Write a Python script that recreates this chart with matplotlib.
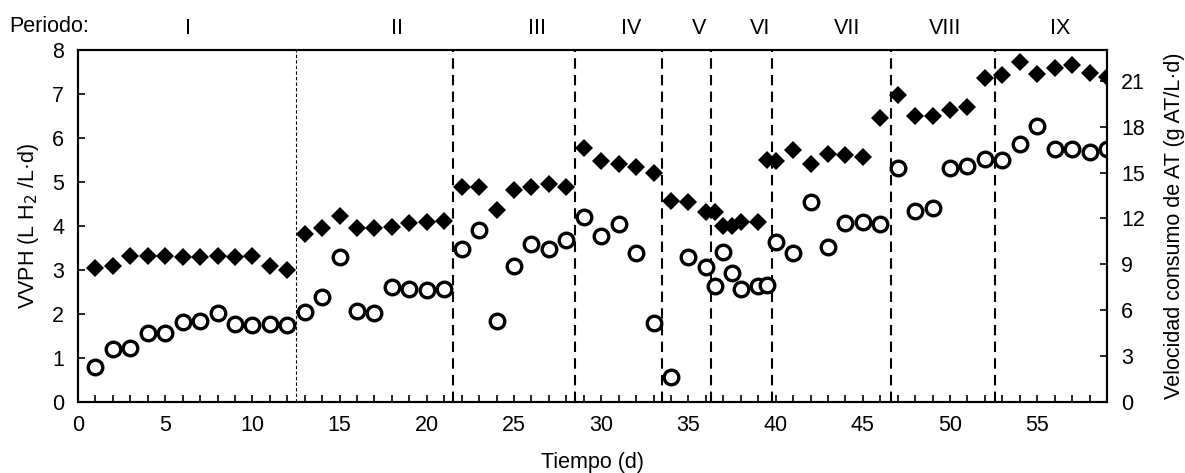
import numpy as np
import matplotlib
matplotlib.use('Agg')
import matplotlib.pyplot as plt

plt.rcParams['font.family'] = ['Liberation Sans', 'DejaVu Sans']

# Tiempo (d)
tiempo = [1, 2, 3, 4, 5, 6, 7, 8, 9, 10, 11, 12,
          13, 14, 15, 16, 17, 18, 19, 20, 21,
          22, 23, 24, 25, 26, 27, 28,
          29, 30, 31, 32, 33,
          34, 35, 36, 36.5, 37, 37.5, 38, 39, 39.5, 40,
          41, 42, 43, 44, 45, 46, 47, 48, 49, 50, 51, 52, 53, 54, 55, 56, 57, 58, 59]

# VVPH (L H2/L.d) - circulos
vvph = [0.80, 1.20, 1.22, 1.56, 1.58, 1.83, 1.85, 2.03, 1.77, 1.75, 1.77, 1.76,
        2.04, 2.39, 3.29, 2.08, 2.03, 2.61, 2.58, 2.55, 2.58,
        3.47, 3.91, 1.84, 3.10, 3.59, 3.49, 3.68,
        4.20, 3.77, 4.05, 3.38, 1.80,
        0.56, 3.30, 3.08, 2.64, 3.42, 2.94, 2.58, 2.64, 2.67, 3.63,
        3.38, 4.55, 3.52, 4.08, 4.10, 4.05, 5.31, 4.35, 4.40, 5.33, 5.37, 5.52, 5.50,
        5.86, 6.27, 5.75, 5.75, 5.69, 5.75]

# Velocidad consumo de AT (g AT/L.d) - rombos
consumo_at = [8.74, 8.91, 9.55, 9.55, 9.55, 9.49, 9.49, 9.55, 9.49, 9.55, 8.86, 8.65,
              11.01, 11.39, 12.16, 11.39, 11.39, 11.44, 11.67, 11.79, 11.85,
              14.03, 14.06, 12.54, 13.86, 14.03, 14.23, 14.06,
              16.59, 15.76, 15.58, 15.38, 14.95,
              13.14, 13.05, 12.45, 12.45, 11.50, 11.50, 11.79, 11.79, 15.81, 15.76,
              16.50, 15.53, 16.24, 16.13, 15.99, 18.54, 20.10, 18.69, 18.69, 19.12, 19.29,
              21.16, 21.36, 22.22, 21.42, 21.85, 22.05, 21.53, 21.25]

# Cambios de periodo y etiquetas
cambios = [12.5, 21.5, 28.5, 33.5, 36.3, 39.8, 46.6, 52.6]
periodos = ['I', 'II', 'III', 'IV', 'V', 'VI', 'VII', 'VIII', 'IX']
pos_periodos = [6.3, 18.3, 26.3, 31.7, 35.6, 39.1, 44.1, 49.7, 56.3]

fs = 15.5

fig = plt.figure(figsize=(11.85, 4.73), dpi=100)
ax = fig.add_axes([0.0658, 0.150, 0.8684, 0.744])
ax2 = ax.twinx()

ax.plot(tiempo, vvph, 'o', ms=10.5, mfc='white', mec='black', mew=2.4, ls='none', zorder=3)
ax2.plot(tiempo, consumo_at, 'D', ms=9, color='black', mew=0, ls='none', zorder=3)

for i, c in enumerate(cambios):
    if i == 0:
        ax.axvline(c, color='black', lw=0.8, ls=(0, (3, 2)), zorder=1)
    else:
        ax.axvline(c, color='black', lw=1.5, ls=(0, (5, 3)), zorder=1)

ax.set_xlim(0, 59)
ax.set_ylim(0, 8)
ax2.set_ylim(0, 23)
ax.set_xticks(np.arange(0, 60, 5))
ax.set_xticks(np.arange(0, 60, 1), minor=True)
ax.set_yticks(np.arange(0, 9, 1))
ax2.set_yticks(np.arange(0, 22, 3))

ax.tick_params(axis='both', which='both', direction='in', labelsize=fs, width=1.2)
ax.tick_params(axis='x', which='both', length=5, pad=9)
ax.tick_params(axis='y', length=5, pad=10)
ax2.tick_params(axis='y', direction='in', labelsize=fs, length=5, width=1.2, pad=10)

for a in (ax, ax2):
    for s in a.spines.values():
        s.set_linewidth(1.5)

ax.set_xlabel('Tiempo (d)', fontsize=fs, labelpad=12)
ax.set_ylabel('VVPH (L H$_2$ /L·d)', fontsize=fs, labelpad=8)
ax2.set_ylabel('Velocidad consumo de AT (g AT/L·d)', fontsize=fs, labelpad=14)

fig.text(0.008, 0.943, 'Periodo:', fontsize=fs, ha='left', va='center')
for p, xp in zip(periodos, pos_periodos):
    ax.text(xp, 8.5, p, fontsize=fs, ha='center', va='center')

fig.savefig('out.png', dpi=100)
